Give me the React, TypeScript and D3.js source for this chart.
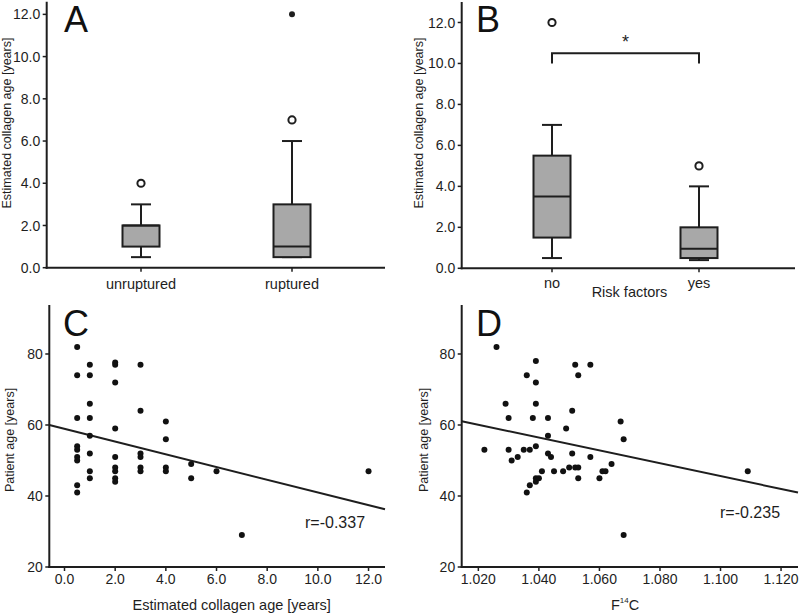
import React from 'react';
import * as d3 from 'd3';

const FONT = '"Liberation Sans", Arial, Helvetica, sans-serif';
const INK = '#1e1e1e';
const BOX_FILL = '#a8a8a8';

// ---------- Panel A: collagen age by rupture status ----------
const catsA = ['unruptured', 'ruptured'];
const whiskerLowA = [0.5, 0.5];
const q1A = [1.0, 0.5];
const medianA = [2.0, 1.0];
const q3A = [2.0, 3.0];
const whiskerHighA = [3.0, 6.0];
const outliersA: number[][] = [[4.0], [7.0]];
const extremesA: number[][] = [[], [12.0]];

// ---------- Panel B: collagen age by risk factors ----------
const catsB = ['no', 'yes'];
const whiskerLowB = [0.5, 0.4];
const q1B = [1.5, 0.5];
const medianB = [3.5, 0.95];
const q3B = [5.5, 2.0];
const whiskerHighB = [7.0, 4.0];
const outliersB: number[][] = [[12.0], [5.0]];
const extremesB: number[][] = [[], []];
const bracketB = { low: 10.0, high: 10.5, label: '*' };

const boxTicks = [0, 2, 4, 6, 8, 10, 12];

// ---------- Panel C: patient age vs collagen age ----------
const collagenAgeC = [
  0.5, 0.5, 0.5, 0.5, 0.5, 0.5, 0.5, 0.5, 0.5,
  1, 1, 1, 1, 1, 1, 1, 1,
  2, 2, 2, 2, 2, 2, 2, 2, 2,
  3, 3, 3, 3, 3, 3,
  4, 4, 4, 4,
  5, 5,
  6, 7, 12,
];
const patientAgeC = [
  82, 74, 62, 54, 53, 51, 50, 43, 41,
  77, 74, 66, 62, 57, 52, 47, 45,
  77.6, 77, 72, 59, 51, 48, 47, 45, 44,
  77, 64, 52, 51, 48, 47,
  61, 56, 48, 47,
  49, 45,
  47, 29, 47,
];
const regC = { intercept: 58.9, slope: -1.79, label: 'r=-0.337' };
const xTicksC = [0, 2, 4, 6, 8, 10, 12];

// ---------- Panel D: patient age vs F14C ----------
const f14cD = [
  1.022, 1.026, 1.029, 1.030, 1.030, 1.031, 1.033, 1.035, 1.036, 1.036,
  1.037, 1.037, 1.038, 1.039, 1.039, 1.039, 1.039, 1.039, 1.039, 1.040,
  1.041, 1.043, 1.043, 1.043, 1.044, 1.045, 1.048, 1.049, 1.050, 1.051,
  1.051, 1.052, 1.052, 1.053, 1.053, 1.053, 1.057, 1.057, 1.060, 1.061,
  1.062, 1.064, 1.067, 1.068, 1.068, 1.109,
];
const patientAgeD = [
  53, 82, 66, 62, 53, 50, 51, 53, 74, 41,
  53, 43, 62, 78, 72, 66, 54, 45, 44, 45,
  47, 62, 57, 52, 51, 47, 47, 59, 48, 64,
  52, 77, 48, 74, 48, 45, 77, 51, 45, 47,
  47, 49, 61, 56, 29, 47,
];
const regD = { intercept: 244.7, slope: -181, label: 'r=-0.235' };
const xTicksD = [1.02, 1.04, 1.06, 1.08, 1.1, 1.12];
const yTicksScatter = [20, 40, 60, 80];

type BoxProps = {
  cats: string[];
  lo: number[]; q1: number[]; med: number[]; q3: number[]; hi: number[];
  outliers: number[][]; extremes: number[][];
  x: d3.ScalePoint<string>;
  y: d3.ScaleLinear<number, number>;
};

function Boxes({ cats, lo, q1, med, q3, hi, outliers, extremes, x, y }: BoxProps) {
  const bw = 37;
  const cw = 20;
  return (
    <g>
      {cats.map((c, i) => {
        const cx = x(c)!;
        return (
          <g key={c}>
            <line x1={cx} x2={cx} y1={y(lo[i])} y2={y(q1[i])} stroke={INK} strokeWidth={2} />
            <line x1={cx} x2={cx} y1={y(q3[i])} y2={y(hi[i])} stroke={INK} strokeWidth={2} />
            <line x1={cx - cw / 2} x2={cx + cw / 2} y1={y(lo[i])} y2={y(lo[i])} stroke={INK} strokeWidth={2} />
            <line x1={cx - cw / 2} x2={cx + cw / 2} y1={y(hi[i])} y2={y(hi[i])} stroke={INK} strokeWidth={2} />
            <rect x={cx - bw / 2} width={bw} y={y(q3[i])} height={y(q1[i]) - y(q3[i])} fill={BOX_FILL} stroke={INK} strokeWidth={2} />
            <line x1={cx - bw / 2} x2={cx + bw / 2} y1={y(med[i])} y2={y(med[i])} stroke={INK} strokeWidth={2} />
            {outliers[i].map((v, j) => (
              <circle key={'o' + j} cx={cx} cy={y(v)} r={3.6} fill="#fff" stroke={INK} strokeWidth={2} />
            ))}
            {extremes[i].map((v, j) => (
              <circle key={'e' + j} cx={cx} cy={y(v)} r={3} fill={INK} />
            ))}
          </g>
        );
      })}
    </g>
  );
}

function YAxis({ x0, y, ticks, fmt, fontSize }: { x0: number; y: d3.ScaleLinear<number, number>; ticks: number[]; fmt: (v: number) => string; fontSize: number }) {
  const [r0, r1] = y.range();
  return (
    <g>
      <line x1={x0} x2={x0} y1={r0 + 1} y2={r1} stroke={INK} strokeWidth={2} />
      {ticks.map((t) => (
        <g key={t}>
          <line x1={x0 - 4} x2={x0} y1={y(t)} y2={y(t)} stroke={INK} strokeWidth={1.5} />
          <text x={x0 - 6.5} y={y(t)} dy="0.36em" textAnchor="end" fontSize={fontSize} fill={INK}>{fmt(t)}</text>
        </g>
      ))}
    </g>
  );
}

function Letter({ x, y, t }: { x: number; y: number; t: string }) {
  return <text x={x} y={y} fontSize={36} fill="#111">{t}</text>;
}

export default function App() {
  // ----- A -----
  const axA = { left: 46.7, right: 385, bottom: 267.7, top: 1.7 };
  const yA = d3.scaleLinear().domain([0, 12.6]).range([axA.bottom, axA.top]);
  const xA = d3.scalePoint<string>().domain(catsA).range([141, 292]);

  // ----- B -----
  const axB = { left: 461.7, right: 795, bottom: 268.3, top: 2 };
  const yB = d3.scaleLinear().domain([0, 13.0]).range([axB.bottom, axB.top]);
  const xB = d3.scalePoint<string>().domain(catsB).range([552, 699]);

  // ----- C -----
  const xC = d3.scaleLinear().domain([-0.6, 12.65]).range([49.3, 385]);
  const yC = d3.scaleLinear().domain([20, 93.8]).range([567, 305]);

  // ----- D -----
  const xD = d3.scaleLinear().domain([1.0145, 1.1256]).range([461.7, 798]);
  const yD = d3.scaleLinear().domain([20, 93.8]).range([567, 305]);

  const f1 = d3.format('.1f');
  const f3 = d3.format('.3f');
  const f0 = d3.format('d');

  const lineGen = (xs: d3.ScaleLinear<number, number>, ys: d3.ScaleLinear<number, number>, reg: { intercept: number; slope: number }) => {
    const dom = xs.domain();
    return d3.line<number>().x((v) => xs(v)).y((v) => ys(reg.intercept + reg.slope * v))(dom)!;
  };

  const tickFs = 14;
  const labelFs = 14.5;
  const yTitleFs = 12.5;

  return (
    <svg width={800} height={613} style={{ position: 'absolute', left: 0, top: 0, background: '#fff' }} fontFamily={FONT}>
      <rect width={800} height={613} fill="#fff" />

      {/* Panel A */}
      <g>
        <Boxes cats={catsA} lo={whiskerLowA} q1={q1A} med={medianA} q3={q3A} hi={whiskerHighA} outliers={outliersA} extremes={extremesA} x={xA} y={yA} />
        <YAxis x0={axA.left} y={yA} ticks={boxTicks} fmt={f1} fontSize={tickFs} />
        <line x1={axA.left - 1} x2={axA.right} y1={axA.bottom} y2={axA.bottom} stroke={INK} strokeWidth={2} />
        {catsA.map((c) => (
          <g key={c}>
            <line x1={xA(c)!} x2={xA(c)!} y1={axA.bottom} y2={axA.bottom + 4} stroke={INK} strokeWidth={1.5} />
            <text x={xA(c)!} y={289} textAnchor="middle" fontSize={labelFs} fill={INK}>{c}</text>
          </g>
        ))}
        <text transform="translate(10.5,123) rotate(-90)" textAnchor="middle" fontSize={yTitleFs} fill={INK}>Estimated collagen age [years]</text>
        <Letter x={64} y={32} t="A" />
      </g>

      {/* Panel B */}
      <g>
        <Boxes cats={catsB} lo={whiskerLowB} q1={q1B} med={medianB} q3={q3B} hi={whiskerHighB} outliers={outliersB} extremes={extremesB} x={xB} y={yB} />
        <YAxis x0={axB.left} y={yB} ticks={boxTicks} fmt={f1} fontSize={tickFs} />
        <line x1={axB.left - 1} x2={axB.right} y1={axB.bottom} y2={axB.bottom} stroke={INK} strokeWidth={2} />
        {catsB.map((c) => (
          <g key={c}>
            <line x1={xB(c)!} x2={xB(c)!} y1={axB.bottom} y2={axB.bottom + 4} stroke={INK} strokeWidth={1.5} />
            <text x={xB(c)!} y={288} textAnchor="middle" fontSize={labelFs} fill={INK}>{c}</text>
          </g>
        ))}
        <text x={629.5} y={296.5} textAnchor="middle" fontSize={labelFs} fill={INK}>Risk factors</text>
        <text transform="translate(422.5,123) rotate(-90)" textAnchor="middle" fontSize={yTitleFs} fill={INK}>Estimated collagen age [years]</text>
        <path
          d={`M${xB(catsB[0])},${yB(bracketB.low)}V${yB(bracketB.high)}H${xB(catsB[1])}V${yB(bracketB.low)}`}
          fill="none" stroke={INK} strokeWidth={2}
        />
        <text x={(xB(catsB[0])! + xB(catsB[1])!) / 2} y={yB(bracketB.high) - 5} textAnchor="middle" fontSize={18} fill={INK}>{bracketB.label}</text>
        <Letter x={476} y={32} t="B" />
      </g>

      {/* Panel C */}
      <g>
        <path d={lineGen(xC, yC, regC)} stroke={INK} strokeWidth={2} fill="none" />
        {collagenAgeC.map((v, i) => (
          <circle key={i} cx={xC(v)} cy={yC(patientAgeC[i])} r={3} fill="#111" />
        ))}
        <YAxis x0={49.3} y={yC} ticks={yTicksScatter} fmt={f0} fontSize={tickFs} />
        <line x1={48.3} x2={385} y1={567} y2={567} stroke={INK} strokeWidth={2} />
        {xTicksC.map((t) => (
          <g key={t}>
            <line x1={xC(t)} x2={xC(t)} y1={567} y2={571} stroke={INK} strokeWidth={1.5} />
            <text x={xC(t)} y={584} textAnchor="middle" fontSize={tickFs} fill={INK}>{f1(t)}</text>
          </g>
        ))}
        <text x={231.7} y={610} textAnchor="middle" fontSize={labelFs} fill={INK}>Estimated collagen age [years]</text>
        <text transform="translate(13.5,440) rotate(-90)" textAnchor="middle" fontSize={yTitleFs} fill={INK}>Patient age [years]</text>
        <text x={305} y={528} fontSize={16} fill={INK}>{regC.label}</text>
        <Letter x={63} y={336} t="C" />
      </g>

      {/* Panel D */}
      <g>
        <path d={lineGen(xD, yD, regD)} stroke={INK} strokeWidth={2} fill="none" />
        {f14cD.map((v, i) => (
          <circle key={i} cx={xD(v)} cy={yD(patientAgeD[i])} r={3} fill="#111" />
        ))}
        <YAxis x0={461.7} y={yD} ticks={yTicksScatter} fmt={f0} fontSize={tickFs} />
        <line x1={460.7} x2={798} y1={567} y2={567} stroke={INK} strokeWidth={2} />
        {xTicksD.map((t) => (
          <g key={t}>
            <line x1={xD(t)} x2={xD(t)} y1={567} y2={571} stroke={INK} strokeWidth={1.5} />
            <text x={xD(t)} y={584} textAnchor="middle" fontSize={tickFs} fill={INK}>{f3(t)}</text>
          </g>
        ))}
        <text x={625} y={610} textAnchor="middle" fontSize={labelFs} fill={INK}>
          F<tspan fontSize={8} dy={-7}>14</tspan><tspan dy={7}>C</tspan>
        </text>
        <text transform="translate(427.5,440) rotate(-90)" textAnchor="middle" fontSize={yTitleFs} fill={INK}>Patient age [years]</text>
        <text x={720} y={518} fontSize={16} fill={INK}>{regD.label}</text>
        <Letter x={476} y={336} t="D" />
      </g>
    </svg>
  );
}
